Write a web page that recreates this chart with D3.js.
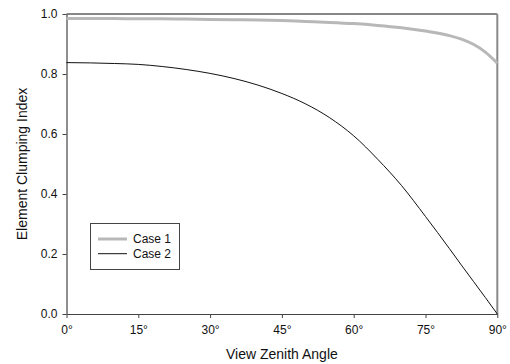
<!DOCTYPE html>
<html><head><meta charset="utf-8">
<script src="https://cdn.jsdelivr.net/npm/d3@7"></script>
<style>body{margin:0;background:#fff}svg{display:block}text{font-family:"Liberation Sans",Arial,sans-serif}</style>
</head><body>
<svg id="c" width="510" height="364"></svg>
<script>
const angles = [0,5,10,15,20,25,30,35,40,45,50,55,60,65,70,75,80,82.5,85,87.5,90];
const case1 = [0.985,0.985,0.985,0.984,0.984,0.983,0.982,0.981,0.980,0.978,0.975,0.972,0.968,0.962,0.954,0.943,0.928,0.916,0.899,0.873,0.836];
const case2 = [0.838,0.837,0.835,0.832,0.825,0.815,0.802,0.785,0.763,0.735,0.700,0.654,0.594,0.516,0.428,0.325,0.218,0.163,0.109,0.055,0.0];
const xTicks = [0,15,30,45,60,75,90];
const yTicks = [0,0.2,0.4,0.6,0.8,1.0];
const seriesNames = ["Case 1","Case 2"];

const svg = d3.select("#c");
const L=66.5, R=497.3, T=14, B=314;
const x = d3.scaleLinear().domain([0,90]).range([L,R]);
const y = d3.scaleLinear().domain([0,1]).range([B,T]);

// frame top/right
svg.append("line").attr("x1",L).attr("x2",R).attr("y1",T).attr("y2",T).attr("stroke","#111").attr("stroke-width",1);
svg.append("line").attr("x1",R).attr("x2",R).attr("y1",T).attr("y2",B).attr("stroke","#8a8a8a").attr("stroke-width",2);

const xAxis = svg.append("g").attr("transform",`translate(0,${B})`)
  .call(d3.axisBottom(x).tickValues(xTicks).tickSize(4).tickSizeOuter(0).tickFormat(d=>d+"°"));
const yAxis = svg.append("g").attr("transform",`translate(${L},0)`)
  .call(d3.axisLeft(y).tickValues(yTicks).tickSize(4).tickSizeOuter(0).tickFormat(d3.format(".1f")));
[xAxis,yAxis].forEach(g=>{
  g.select(".domain").attr("stroke","#444").attr("stroke-width",1.2);
  g.selectAll(".tick line").attr("stroke","#444");
  g.selectAll("text").attr("fill","#111").style("font-size","12px").style("font-family","'Liberation Sans',Arial,sans-serif");
});
xAxis.selectAll("text").attr("dy","1.1em");
yAxis.selectAll("text").attr("dx","-2");

const line = d3.line().x((d,i)=>x(angles[i])).y(d=>y(d)).curve(d3.curveMonotoneX);
svg.append("path").datum(case2).attr("d",line).attr("fill","none").attr("stroke","#111").attr("stroke-width",1);
svg.append("path").datum(case1).attr("d",line).attr("fill","none").attr("stroke","#b8b8b8").attr("stroke-width",3);

// titles
svg.append("text").attr("x",(L+R)/2).attr("y",359).attr("text-anchor","middle").style("font-size","14px").attr("fill","#111").text("View Zenith Angle");
svg.append("text").attr("transform",`translate(27,${(T+B)/2}) rotate(-90)`).attr("text-anchor","middle").style("font-size","14px").attr("fill","#111").text("Element Clumping Index");

// legend
const lg = svg.append("g");
lg.append("rect").attr("x",90.5).attr("y",223.5).attr("width",89).attr("height",46).attr("fill","#fff").attr("stroke","#444").attr("stroke-width",1);
const styles=[{c:"#b8b8b8",w:3},{c:"#111",w:1}];
seriesNames.forEach((n,i)=>{
  const yy = 239 + i*14.7;
  lg.append("line").attr("x1",98).attr("x2",127).attr("y1",yy).attr("y2",yy).attr("stroke",styles[i].c).attr("stroke-width",styles[i].w);
  lg.append("text").attr("x",133).attr("y",yy+4).style("font-size","12px").attr("fill","#111").text(n);
});
</script>
</body></html>
